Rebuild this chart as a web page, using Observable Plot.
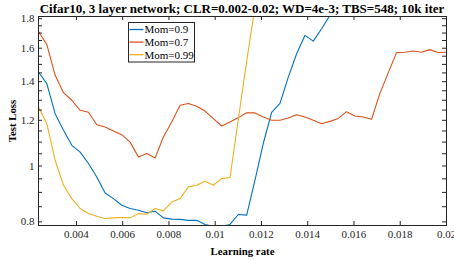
<!DOCTYPE html>
<html>
<head>
<meta charset="utf-8">
<script src="https://cdn.jsdelivr.net/npm/d3@7"></script>
<script src="https://cdn.jsdelivr.net/npm/@observablehq/plot@0.6"></script>
<style>
  body { margin: 0; background: #fff; }
  g[aria-label="x-axis label"] text, g[aria-label="y-axis label"] text { font-weight: bold; fill: #000; font-size: 10.8px; }
</style>
</head>
<body>
<div id="chart"></div>
<script>
const title = "Cifar10, 3 layer network; CLR=0.002-0.02; WD=4e-3; TBS=548; 10k iter";
const xLabel = "Learning rate";
const yLabel = "Test Loss";

const learningRate = [0.00236, 0.00272, 0.00308, 0.00344, 0.0038, 0.00416, 0.00452, 0.00488, 0.00524, 0.0056,
  0.00596, 0.00632, 0.00668, 0.00704, 0.0074, 0.00776, 0.00812, 0.00848, 0.00884, 0.0092,
  0.00956, 0.00992, 0.01028, 0.01064, 0.011, 0.01136, 0.01172, 0.01208, 0.01244, 0.0128,
  0.01316, 0.01352, 0.01388, 0.01424, 0.0146, 0.01496, 0.01532, 0.01568, 0.01604, 0.0164,
  0.01676, 0.01712, 0.01748, 0.01784, 0.0182, 0.01856, 0.01892, 0.01928, 0.01964, 0.02];

const seriesNames = ["Mom=0.9", "Mom=0.7", "Mom=0.99"];
const seriesColors = ["#0072BD", "#D95319", "#EDB120"];

const mom09 = [1.455, 1.389, 1.232, 1.153, 1.086, 1.057, 1.010, 0.957, 0.898, 0.878,
  0.855, 0.844, 0.838, 0.830, 0.835, 0.813, 0.809, 0.808, 0.805, 0.805,
  0.792, 0.786, 0.786, 0.792, 0.824, 0.822, 0.945, 1.095, 1.239, 1.284,
  1.426, 1.565, 1.684, 1.646, 1.729, 1.824, 1.95];
const mom07 = [1.711, 1.623, 1.436, 1.340, 1.300, 1.249, 1.239, 1.179, 1.168, 1.150,
  1.133, 1.100, 1.037, 1.051, 1.032, 1.123, 1.192, 1.274, 1.283, 1.269,
  1.245, 1.208, 1.173, 1.192, 1.213, 1.237, 1.236, 1.216, 1.200, 1.200,
  1.211, 1.227, 1.216, 1.200, 1.184, 1.195, 1.209, 1.242, 1.221, 1.216,
  1.205, 1.336, 1.450, 1.572, 1.575, 1.582, 1.575, 1.591, 1.573, 1.575];
const mom099 = [1.265, 1.184, 1.023, 0.926, 0.878, 0.844, 0.827, 0.818, 0.811, 0.813,
  0.814, 0.813, 0.827, 0.825, 0.844, 0.836, 0.866, 0.878, 0.920, 0.926,
  0.941, 0.926, 0.951, 0.955, 1.205, 1.518, 1.89];

const xTicks = [0.004, 0.006, 0.008, 0.01, 0.012, 0.014, 0.016, 0.018, 0.02];
const yTicks = [0.8, 1, 1.2, 1.4, 1.6, 1.8];
const yMinorTicks = [0.8, 0.85, 0.9, 0.95, 1, 1.05, 1.1, 1.15, 1.2, 1.25, 1.3, 1.35, 1.4, 1.45, 1.5, 1.55, 1.6, 1.65, 1.7, 1.75, 1.8];

const allSeries = [mom09, mom07, mom099];
const data = allSeries.flatMap((vals, s) => vals.map((v, i) => ({lr: learningRate[i], loss: v, series: seriesNames[s]})));

const W = 454, H = 260, mL = 38, mR = 8, mT = 16, mB = 35;
const fw = W - mL - mR, fh = H - mT - mB, tl = 4;
const axisColor = "#262626";
const serif = "'Liberation Serif', 'Times New Roman', serif";

const plot = Plot.plot({
  width: W, height: H,
  marginLeft: mL, marginRight: mR, marginTop: mT, marginBottom: mB,
  style: {fontFamily: serif, fontSize: "11px", color: axisColor, background: "#fff"},
  x: {type: "linear", domain: [0.00236, 0.02]},
  y: {type: "log", domain: [0.7886, 1.816]},
  color: {domain: seriesNames, range: seriesColors},
  marks: [
    Plot.line(data, {x: "lr", y: "loss", z: "series", stroke: "series", strokeWidth: 1.1, clip: true}),
    Plot.frame({stroke: axisColor, strokeWidth: 1}),
    Plot.tickX(xTicks, {x: d => d, stroke: axisColor, insetTop: fh - tl}),
    Plot.tickX(xTicks, {x: d => d, stroke: axisColor, insetBottom: fh - tl}),
    Plot.tickY(yMinorTicks, {y: d => d, stroke: axisColor, insetRight: fw - tl}),
    Plot.tickY(yMinorTicks, {y: d => d, stroke: axisColor, insetLeft: fw - tl}),
    Plot.axisX({ticks: xTicks, tickSize: 0, tickPadding: 5, tickFormat: d => String(d),
      label: xLabel, labelAnchor: "center", labelOffset: 29, labelArrow: "none"}),
    Plot.axisY({ticks: yTicks, tickSize: 0, tickPadding: 4, tickFormat: d => String(d),
      label: yLabel, labelAnchor: "center", labelOffset: 30, labelArrow: "none"})
  ]
});
document.getElementById("chart").append(plot);

const svg = d3.select(plot);

// title
svg.append("text").attr("aria-label", "title")
  .attr("x", mL + fw / 2).attr("y", 12.5)
  .attr("text-anchor", "middle")
  .style("font-family", serif).style("font-size", "13px").style("font-weight", "bold")
  .attr("fill", "#000").text(title);

// legend box
const lg = svg.append("g").attr("aria-label", "legend").attr("text-anchor", "start");
const lx = 128.5, ly = 22.5, lw = 66, lh = 39.5, rowH = 12.6;
lg.append("rect").attr("x", lx).attr("y", ly).attr("width", lw).attr("height", lh)
  .attr("fill", "#fff").attr("stroke", axisColor).attr("stroke-width", 1);
seriesNames.forEach((name, i) => {
  const cy = ly + 7 + i * rowH;
  lg.append("line").attr("x1", lx + 1).attr("x2", lx + 15).attr("y1", cy).attr("y2", cy)
    .attr("stroke", seriesColors[i]).attr("stroke-width", 1.3);
  lg.append("text").attr("x", lx + 16).attr("y", cy).attr("dy", "0.35em")
    .attr("fill", "#000").style("font-size", "11px").text(name);
});
</script>
</body>
</html>
